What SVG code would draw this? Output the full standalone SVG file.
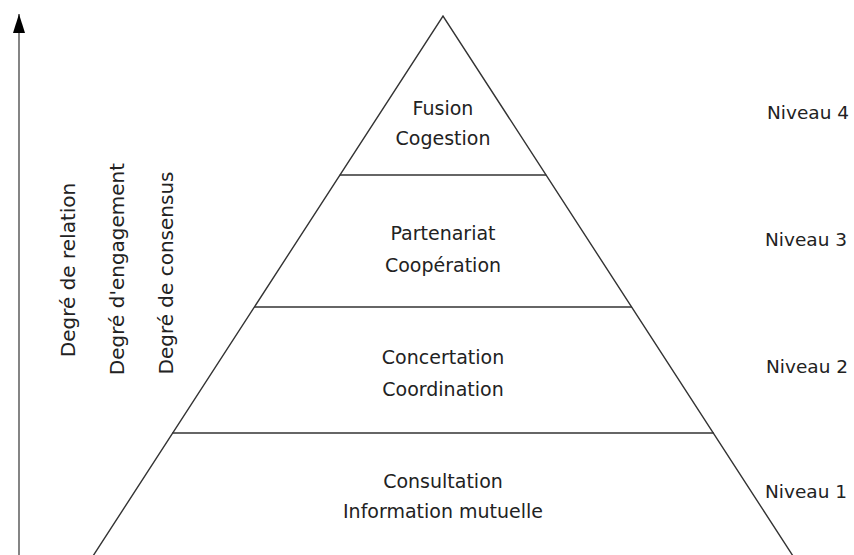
<svg xmlns="http://www.w3.org/2000/svg" width="854" height="555" viewBox="0 0 854 555">
<style>
.ln{stroke:#333;stroke-width:1.4;fill:none}
.t{font-family:"DejaVu Sans",sans-serif;font-size:19px;fill:#222;text-anchor:middle}
.n{font-family:"DejaVu Sans",sans-serif;font-size:18.5px;fill:#222}
.v{font-family:"DejaVu Sans",sans-serif;font-size:20px;fill:#222;text-anchor:middle}
</style>
<defs>
<marker id="ah" markerWidth="14" markerHeight="20" refX="7" refY="1" orient="0" markerUnits="userSpaceOnUse">
<path d="M7 1 L13 20 L1 20 Z" fill="#000"/>
</marker>
</defs>
<rect width="854" height="555" fill="#fff"/>
<g id="connectors">
<line x1="19" y1="555" x2="19" y2="14" stroke="#666" stroke-width="1.6" marker-end="url(#ah)"/>
</g>
<g id="pyramid">
<polyline class="ln" points="93,556 443,16 793,556"/>
</g>
<g id="level4">
<text class="t" x="443" y="115">Fusion</text>
<text class="t" x="443" y="145">Cogestion</text>
<text class="n" x="767" y="119">Niveau 4</text>
</g>
<g id="level3">
<line class="ln" x1="339.8" y1="175" x2="546.2" y2="175"/>
<text class="t" x="443" y="240">Partenariat</text>
<text class="t" x="443" y="272">Coopération</text>
<text class="n" x="765" y="246">Niveau 3</text>
</g>
<g id="level2">
<line class="ln" x1="254" y1="307" x2="632" y2="307"/>
<text class="t" x="443" y="364">Concertation</text>
<text class="t" x="443" y="396">Coordination</text>
<text class="n" x="766" y="373">Niveau 2</text>
</g>
<g id="level1">
<line class="ln" x1="172.2" y1="433" x2="713.8" y2="433"/>
<text class="t" x="443" y="488">Consultation</text>
<text class="t" x="443" y="518">Information mutuelle</text>
<text class="n" x="765" y="498">Niveau 1</text>
</g>
<g id="axis-labels">
<text class="v" transform="translate(75,270) rotate(-90)">Degré de relation</text>
<text class="v" transform="translate(124,269) rotate(-90)">Degré d'engagement</text>
<text class="v" transform="translate(173,273) rotate(-90)">Degré de consensus</text>
</g>
</svg>
